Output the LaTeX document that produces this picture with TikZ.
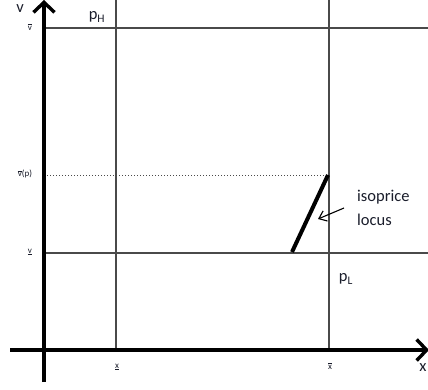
\documentclass[tikz,border=0pt]{standalone}
\usepackage{fontspec}
\setmainfont{Carlito}
\usetikzlibrary{arrows.meta}
\definecolor{txt}{HTML}{1A1D2B}
\definecolor{grid}{HTML}{4A4A4A}
\tikzset{
  axis/.style={line width=4pt,-{Straight Barb[length=10pt,width=21pt,line width=3.4pt]}},
  gridline/.style={grid,line width=1.7pt},
  lbl/.style={text=txt,inner sep=0pt,font=\fontsize{16.5}{19}\selectfont},
  tiny/.style={text=txt,inner sep=0pt,font=\fontsize{9}{10}\selectfont},
}
\begin{document}
\begin{tikzpicture}[x=1pt,y=-1pt]
\useasboundingbox (0,0) rectangle (428,389);
% coordinates
\coordinate (yb) at (44,382);
\coordinate (yt) at (44,0);
\coordinate (xl) at (10,350);
\coordinate (xr) at (429,350);
\coordinate (vl1) at (116,0);
\coordinate (vl1b) at (116,350);
\coordinate (vl2) at (329,0);
\coordinate (vl2b) at (329,350);
\coordinate (hT0) at (44,28);
\coordinate (hT1) at (428,28);
\coordinate (hB0) at (44,253);
\coordinate (hB1) at (428,253);
\coordinate (dp0) at (44,175);
\coordinate (dp1) at (329,175);
\coordinate (locA) at (292,252);
\coordinate (locB) at (328,175);
\coordinate (arS) at (344,208);
\coordinate (arE) at (318,219);
% grid lines
\draw[gridline] (vl1) -- (vl1b);
\draw[gridline] (vl2) -- (vl2b);
\draw[gridline] (hT0) -- (hT1);
\draw[gridline] (hB0) -- (hB1);
\draw[grid,line width=1pt,dotted] (dp0) -- (dp1);
% axes
\draw[axis] (yb) -- (yt);
\draw[axis] (xl) -- (xr);
% locus
\draw[line width=4pt] (locA) -- (locB);
\draw[line width=1.1pt,-{Straight Barb[length=7pt,width=11pt,line width=1.1pt]}] (arS) -- (arE);
% labels
\node[lbl,anchor=west] (iso) at (357,197) {isoprice};
\node[lbl,anchor=west] (loc) at (357,220) {locus};
\node[lbl] (pH) at (97,17) {p\textsubscript{H}};
\node[lbl] (pL) at (346,279) {p\textsubscript{L}};
\node[lbl] (vax) at (20,9) {v};
\node[lbl] (xax) at (423,368) {x};
\node[tiny] (vbar) at (30,27) {$\overline{\mbox{v}}$};
\node[tiny] (vbp) at (25,174) {$\overline{\mbox{v}}$(p)};
\node[tiny] (vund) at (30,252) {\underline{v}};
\node[tiny] (xund) at (117,367) {\underline{x}};
\node[tiny] (xbar) at (330,366) {$\overline{\mbox{x}}$};
\end{tikzpicture}
\end{document}
